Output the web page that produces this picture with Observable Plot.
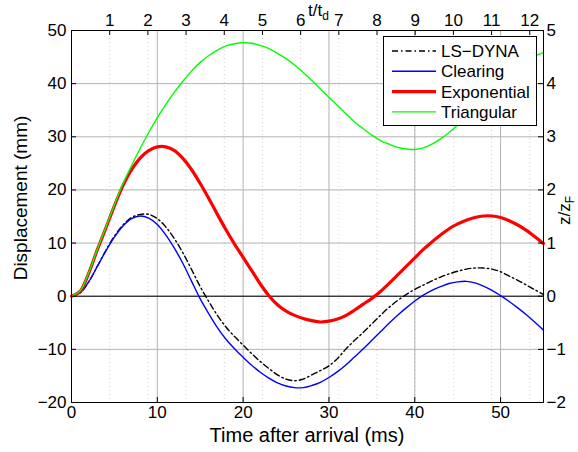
<!DOCTYPE html>
<html><head><meta charset="utf-8">
<script src="https://cdn.jsdelivr.net/npm/d3@7"></script>
<script src="https://cdn.jsdelivr.net/npm/@observablehq/plot@0.6"></script>
<style>
body{margin:0;background:#fff;}
#chart{position:relative;width:578px;height:452px;}
</style></head><body><div id="chart"></div>
<script>
// ---- data ----
const time = [0,1,2,3,4,5,6,7,8,9,10,11,12,13,14,15,16,17,18,19,20,21,22,23,24,25,26,27,28,29,30,31,32,33,34,35,36,37,38,39,40,41,42,43,44,45,46,47,48,49,50,51,52,53,54,55];
const lsDyna = [0,0.6,2.7,5.6,8.6,11.3,13.4,14.8,15.4,15.4,14.6,13.0,10.8,8.1,5.0,1.8,-1.0,-3.6,-5.8,-7.6,-9.2,-10.8,-12.3,-13.6,-14.8,-15.6,-15.9,-15.6,-14.8,-14.0,-13.1,-11.7,-9.9,-8.3,-6.8,-5.2,-3.6,-2.1,-0.8,0.3,1.3,2.1,2.9,3.6,4.2,4.7,5.1,5.3,5.3,5.1,4.6,3.8,3.0,2.1,1.2,0.3];
const clearing = [0,0.6,2.7,5.6,8.5,11.1,13.2,14.6,15.1,14.7,13.5,11.5,9.0,6.1,2.8,-0.5,-3.3,-5.9,-8.1,-9.9,-11.5,-13.0,-14.3,-15.4,-16.3,-16.9,-17.2,-17.2,-16.8,-16.2,-15.3,-14.2,-12.9,-11.4,-9.9,-8.3,-6.7,-5.1,-3.6,-2.2,-0.9,0.2,1.1,1.8,2.4,2.7,2.8,2.5,1.9,1.1,0.1,-1.0,-2.2,-3.5,-4.9,-6.4];
const exponential = [0,0.9,4.3,8.7,12.8,17.0,20.8,23.8,26.0,27.4,28.1,28.1,27.4,25.9,23.8,21.2,18.4,15.4,12.5,9.8,7.3,4.8,2.3,0.1,-1.6,-2.8,-3.6,-4.2,-4.6,-4.85,-4.7,-4.3,-3.6,-2.6,-1.5,-0.4,0.9,2.4,4.0,5.6,7.2,8.8,10.2,11.5,12.7,13.6,14.3,14.8,15.1,15.1,14.8,14.2,13.4,12.4,11.2,9.9];
const triangular = [0,1.0,4.4,8.8,13.0,17.2,21.2,24.6,27.8,30.8,33.6,36.1,38.4,40.5,42.4,44.0,45.3,46.3,47.1,47.5,47.7,47.6,47.2,46.6,45.7,44.7,43.5,42.1,40.6,39.0,37.4,35.9,34.3,32.8,31.5,30.3,29.3,28.6,28.0,27.7,27.6,27.9,28.6,29.6,30.8,32.2,33.8,35.5,37.3,39.0,40.6,42.0,43.3,44.3,45.2,45.9];
const seriesNames = ["LS\u2212DYNA","Clearing","Exponential","Triangular"];
const seriesValues = [lsDyna, clearing, exponential, triangular];
const xTicks = [0,10,20,30,40,50];
const yTicks = [-20,-10,0,10,20,30,40,50];
const tdTicks = [1,2,3,4,5,6,7,8,9,10,11,12];
const td = 4.45;          // ms per t/td unit
const zTicks = [-2,-1,0,1,2,3,4,5];
const zF = 10;            // mm per z/zF unit
const xLabel = "Time after arrival (ms)";
const yLabel = "Displacement (mm)";

// ---- styles ----
const seriesStyle = [
  {stroke:"#000000", strokeWidth:1.4, dash:"6,3,1.5,3"},
  {stroke:"#0000ff", strokeWidth:1.4, dash:null},
  {stroke:"#ff0000", strokeWidth:3.2, dash:null},
  {stroke:"#00ff00", strokeWidth:1.4, dash:null}
];

const W = 578, H = 452, mL = 71, mR = 35, mT = 30, mB = 50;
const frameW = W - mL - mR, frameH = H - mT - mB;
const tick = 5;
const minus = k => k < 0 ? "\u2212" + (-k) : String(k);

const rows = [];
seriesNames.forEach((name, i) => time.forEach((t, j) => rows.push({t, v: seriesValues[i][j], series: name})));

const lineMarks = seriesNames.map((name, i) => Plot.line(rows.filter(r => r.series === name), {
  x: "t", y: "v", stroke: seriesStyle[i].stroke, strokeWidth: seriesStyle[i].strokeWidth,
  strokeDasharray: seriesStyle[i].dash, curve: "catmull-rom"
}));

const tdVals = tdTicks.map(k => k * td);
const zVals = zTicks.map(k => k * zF);

const svg = Plot.plot({
  width: W, height: H, marginLeft: mL, marginRight: mR, marginTop: mT, marginBottom: mB,
  style: {fontFamily: "'Liberation Sans', Arial, Helvetica, sans-serif", fontSize: "17px", background: "#fff", color: "#000", overflow: "visible"},
  x: {domain: [0, 55]},
  y: {domain: [-20, 50]},
  marks: [
    Plot.gridX(tdVals, {stroke: "#cfcfcf", strokeOpacity: 1, strokeDasharray: "1,3"}),
    Plot.gridX(xTicks.slice(1), {stroke: "#b3b3b3", strokeOpacity: 1}),
    Plot.gridY(yTicks.slice(1, -1), {stroke: "#b3b3b3", strokeOpacity: 1}),
    Plot.ruleY([0], {stroke: "#000", strokeWidth: 1}),
    ...lineMarks,
    Plot.frame({stroke: "#000", strokeWidth: 1}),
    // inward ticks
    Plot.tickX(xTicks, {x: d => d, insetTop: frameH - tick, stroke: "#000"}),
    Plot.tickX(tdVals, {x: d => d, insetBottom: frameH - tick, stroke: "#000"}),
    Plot.tickY(yTicks, {y: d => d, insetRight: frameW - tick, stroke: "#000"}),
    Plot.tickY(zVals, {y: d => d, insetLeft: frameW - tick, stroke: "#000"}),
    // tick labels
    Plot.axisX({anchor: "bottom", ticks: xTicks, tickSize: 0, tickPadding: 3, tickFormat: minus, label: null}),
    Plot.axisX({anchor: "top", ticks: tdVals, tickSize: 0, tickPadding: 5, tickFormat: v => minus(Math.round(v / td)), label: null}),
    Plot.axisY({anchor: "left", ticks: yTicks, tickSize: 0, tickPadding: 5, tickFormat: minus, label: null}),
    Plot.axisY({anchor: "right", ticks: zVals, tickSize: 0, tickPadding: 3, tickFormat: v => minus(Math.round(v / zF)), label: null})
  ]
});

const s = d3.select(svg);
// axis titles
s.append("text").attr("x", mL + frameW / 2).attr("y", 441.5).attr("text-anchor", "middle")
  .attr("font-size", 20).attr("fill", "#000").text(xLabel);
s.append("text").attr("transform", "translate(27,198) rotate(-90)").attr("text-anchor", "middle")
  .attr("font-size", 19).attr("fill", "#000").text(yLabel);
const tt = s.append("text").attr("x", 308).attr("y", 15.5).attr("text-anchor", "start").attr("font-size", 17).attr("fill", "#000");
tt.append("tspan").text("t/t");
tt.append("tspan").attr("dy", 4).attr("font-size", 12).text("d");
const zz = s.append("text").attr("transform", "translate(570,225) rotate(-90)").attr("text-anchor", "start").attr("font-size", 17).attr("fill", "#000");
zz.append("tspan").text("z/z");
zz.append("tspan").attr("dy", 4).attr("font-size", 12).text("F");

// legend
const lg = s.append("g");
lg.append("rect").attr("x", 383.5).attr("y", 36.5).attr("width", 153).attr("height", 89)
  .attr("fill", "#fff").attr("stroke", "#000").attr("stroke-width", 1);
seriesNames.forEach((name, i) => {
  const y = 51 + i * 20.3;
  lg.append("line").attr("x1", 392).attr("x2", 436).attr("y1", y).attr("y2", y)
    .attr("stroke", seriesStyle[i].stroke).attr("stroke-width", seriesStyle[i].strokeWidth)
    .attr("stroke-dasharray", seriesStyle[i].dash);
  lg.append("text").attr("x", 441).attr("y", y + 6).attr("text-anchor", "start")
    .attr("font-size", 17).attr("fill", "#000").text(name);
});

document.getElementById("chart").appendChild(svg);
</script></body></html>
